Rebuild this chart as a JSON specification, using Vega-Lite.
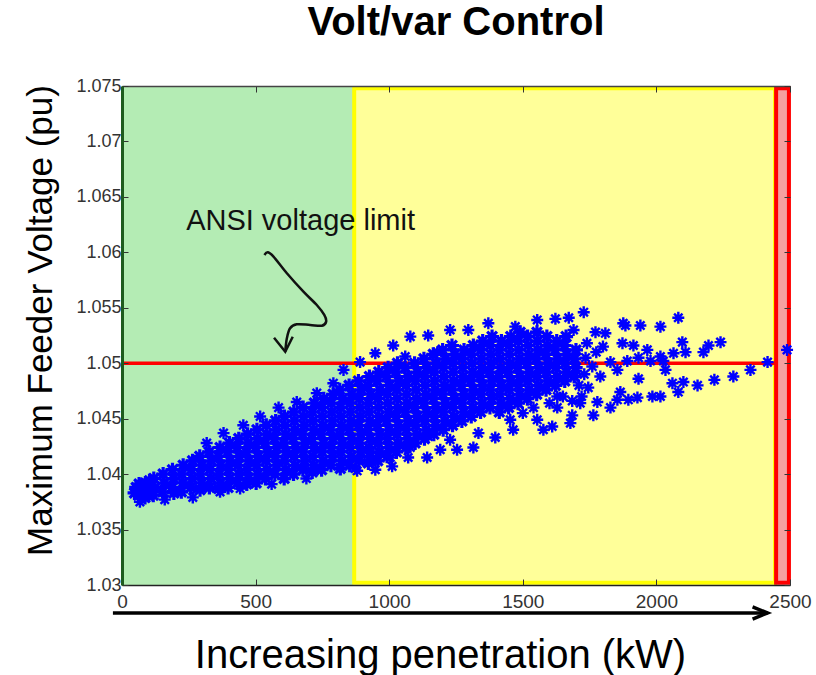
{
"$schema": "https://vega.github.io/schema/vega-lite/v6.json",
"width": 668, "height": 499,
"autosize": {"type": "none"},
"padding": {"left": 122, "top": 86, "right": 26, "bottom": 90},
"background": "white",
"config": {"view": {"stroke": null}},
"title": {"text": "Volt/var Control", "font": "Liberation Sans", "fontSize": 40, "fontWeight": "bold", "color": "#000", "anchor": "middle", "frame": "group", "baseline": "alphabetic", "offset": 48, "dy": 46},
"datasets": {
"regions": [
{"r": "g", "x1": 0, "x2": 866, "y1": 1.03, "y2": 1.075},
{"r": "y", "x1": 869, "x2": 2444, "y1": 1.0302, "y2": 1.0748},
{"r": "r", "x1": 2448, "x2": 2496, "y1": 1.0302, "y2": 1.0748}
],
"limit": [{"x1": 0, "x2": 2446, "v": 1.05}],
"note": [{"x": 240, "y": 1.0628, "t": "ANSI voltage limit"}],
"curve": [
{"o": 1, "x": 533, "y": 1.05976},
{"o": 2, "x": 546, "y": 1.0600},
{"o": 3, "x": 567, "y": 1.05961},
{"o": 4, "x": 617, "y": 1.05811},
{"o": 5, "x": 679, "y": 1.05645},
{"o": 6, "x": 729, "y": 1.05525},
{"o": 7, "x": 757, "y": 1.05435},
{"o": 8, "x": 764, "y": 1.05375},
{"o": 9, "x": 748, "y": 1.05338},
{"o": 10, "x": 704, "y": 1.05345},
{"o": 11, "x": 654, "y": 1.05351},
{"o": 12, "x": 629, "y": 1.05315},
{"o": 13, "x": 617, "y": 1.05225},
{"o": 14, "x": 611, "y": 1.05104}
],
"heads": [
{"g": "a", "o": 1, "x": 569, "y": 1.0523},
{"g": "a", "o": 2, "x": 611, "y": 1.05104},
{"g": "a", "o": 3, "x": 639, "y": 1.05239}
],
"axarrow": [
{"g": "b", "o": 1, "x": -34, "y": 1.02748},
{"g": "b", "o": 2, "x": 2416, "y": 1.02748},
{"g": "c", "o": 1, "x": 2360, "y": 1.02802},
{"g": "c", "o": 2, "x": 2416, "y": 1.02748},
{"g": "c", "o": 3, "x": 2360, "y": 1.02693}
],
"core": [
{"x":47,"y":1.0383},{"x":53,"y":1.0388},{"x":62,"y":1.0381},{"x":60,"y":1.0386},{"x":64,"y":1.0391},{"x":72,"y":1.0384},{"x":75,"y":1.0390},
{"x":82,"y":1.0384},{"x":88,"y":1.0392},{"x":86,"y":1.0379},{"x":100,"y":1.0387},{"x":103,"y":1.0394},{"x":98,"y":1.0381},
{"x":117,"y":1.0381},{"x":123,"y":1.0388},{"x":119,"y":1.0396},
{"x":152,"y":1.0384},{"x":158,"y":1.0392},{"x":154,"y":1.0400},
{"x":187,"y":1.0388},{"x":193,"y":1.0396},{"x":189,"y":1.0404},{"x":194,"y":1.0383},
{"x":222,"y":1.0384},{"x":228,"y":1.0392},{"x":224,"y":1.0400},{"x":229,"y":1.0408},
{"x":257,"y":1.0388},{"x":263,"y":1.0396},{"x":259,"y":1.0404},{"x":264,"y":1.0412},
{"x":292,"y":1.0386},{"x":298,"y":1.0392},{"x":294,"y":1.0400},{"x":299,"y":1.0408},{"x":291,"y":1.0416},
{"x":327,"y":1.0388},{"x":333,"y":1.0396},{"x":329,"y":1.0404},{"x":334,"y":1.0412},{"x":326,"y":1.0420},
{"x":362,"y":1.0387},{"x":368,"y":1.0392},{"x":364,"y":1.0400},{"x":369,"y":1.0408},{"x":361,"y":1.0416},{"x":367,"y":1.0424},
{"x":397,"y":1.0388},{"x":403,"y":1.0396},{"x":399,"y":1.0404},{"x":404,"y":1.0412},{"x":396,"y":1.0420},{"x":402,"y":1.0428},
{"x":432,"y":1.0392},{"x":438,"y":1.0400},{"x":434,"y":1.0408},{"x":439,"y":1.0416},{"x":431,"y":1.0424},{"x":437,"y":1.0432},
{"x":467,"y":1.0391},{"x":473,"y":1.0396},{"x":469,"y":1.0404},{"x":474,"y":1.0412},{"x":466,"y":1.0420},{"x":472,"y":1.0428},{"x":470,"y":1.0436},
{"x":502,"y":1.0392},{"x":508,"y":1.0400},{"x":504,"y":1.0408},{"x":509,"y":1.0416},{"x":501,"y":1.0424},{"x":507,"y":1.0432},{"x":505,"y":1.0440},
{"x":537,"y":1.0396},{"x":543,"y":1.0404},{"x":539,"y":1.0412},{"x":544,"y":1.0420},{"x":536,"y":1.0428},{"x":542,"y":1.0436},{"x":540,"y":1.0444},
{"x":572,"y":1.0400},{"x":578,"y":1.0408},{"x":574,"y":1.0416},{"x":579,"y":1.0424},{"x":571,"y":1.0432},{"x":577,"y":1.0440},{"x":575,"y":1.0448},
{"x":607,"y":1.0396},{"x":613,"y":1.0404},{"x":609,"y":1.0412},{"x":614,"y":1.0420},{"x":606,"y":1.0428},{"x":612,"y":1.0436},{"x":610,"y":1.0444},{"x":608,"y":1.0452},
{"x":642,"y":1.0400},{"x":648,"y":1.0408},{"x":644,"y":1.0416},{"x":649,"y":1.0424},{"x":641,"y":1.0432},{"x":647,"y":1.0440},{"x":645,"y":1.0448},{"x":643,"y":1.0456},
{"x":677,"y":1.0404},{"x":683,"y":1.0412},{"x":679,"y":1.0420},{"x":684,"y":1.0428},{"x":676,"y":1.0436},{"x":682,"y":1.0444},{"x":680,"y":1.0452},{"x":678,"y":1.0460},
{"x":712,"y":1.0402},{"x":718,"y":1.0408},{"x":714,"y":1.0416},{"x":719,"y":1.0424},{"x":711,"y":1.0432},{"x":717,"y":1.0440},{"x":715,"y":1.0448},{"x":713,"y":1.0456},{"x":720,"y":1.0464},
{"x":747,"y":1.0404},{"x":753,"y":1.0412},{"x":749,"y":1.0420},{"x":754,"y":1.0428},{"x":746,"y":1.0436},{"x":752,"y":1.0444},{"x":750,"y":1.0452},{"x":748,"y":1.0460},{"x":755,"y":1.0468},
{"x":782,"y":1.0408},{"x":788,"y":1.0416},{"x":784,"y":1.0424},{"x":789,"y":1.0432},{"x":781,"y":1.0440},{"x":787,"y":1.0448},{"x":785,"y":1.0456},{"x":783,"y":1.0464},{"x":790,"y":1.0472},
{"x":817,"y":1.0405},{"x":823,"y":1.0412},{"x":819,"y":1.0420},{"x":824,"y":1.0428},{"x":816,"y":1.0436},{"x":822,"y":1.0444},{"x":820,"y":1.0452},{"x":818,"y":1.0460},{"x":825,"y":1.0468},{"x":815,"y":1.0476},
{"x":852,"y":1.0408},{"x":858,"y":1.0416},{"x":854,"y":1.0424},{"x":859,"y":1.0432},{"x":851,"y":1.0440},{"x":857,"y":1.0448},{"x":855,"y":1.0456},{"x":853,"y":1.0464},{"x":860,"y":1.0472},{"x":850,"y":1.0480},
{"x":887,"y":1.0412},{"x":893,"y":1.0420},{"x":889,"y":1.0428},{"x":894,"y":1.0436},{"x":886,"y":1.0444},{"x":892,"y":1.0452},{"x":890,"y":1.0460},{"x":888,"y":1.0468},{"x":895,"y":1.0476},{"x":885,"y":1.0484},
{"x":922,"y":1.0410},{"x":928,"y":1.0416},{"x":924,"y":1.0424},{"x":929,"y":1.0432},{"x":921,"y":1.0440},{"x":927,"y":1.0448},{"x":925,"y":1.0456},{"x":923,"y":1.0464},{"x":930,"y":1.0472},{"x":920,"y":1.0480},{"x":926,"y":1.0488},
{"x":957,"y":1.0412},{"x":963,"y":1.0420},{"x":959,"y":1.0428},{"x":964,"y":1.0436},{"x":956,"y":1.0444},{"x":962,"y":1.0452},{"x":960,"y":1.0460},{"x":958,"y":1.0468},{"x":965,"y":1.0476},{"x":955,"y":1.0484},{"x":961,"y":1.0492},
{"x":992,"y":1.0416},{"x":998,"y":1.0424},{"x":994,"y":1.0432},{"x":999,"y":1.0440},{"x":991,"y":1.0448},{"x":997,"y":1.0456},{"x":995,"y":1.0464},{"x":993,"y":1.0472},{"x":1000,"y":1.0480},{"x":990,"y":1.0488},{"x":996,"y":1.0496},
{"x":1027,"y":1.0420},{"x":1033,"y":1.0428},{"x":1029,"y":1.0436},{"x":1034,"y":1.0444},{"x":1026,"y":1.0452},{"x":1032,"y":1.0460},{"x":1030,"y":1.0468},{"x":1028,"y":1.0476},{"x":1035,"y":1.0484},{"x":1025,"y":1.0492},{"x":1031,"y":1.0500},
{"x":1062,"y":1.0424},{"x":1068,"y":1.0432},{"x":1064,"y":1.0440},{"x":1069,"y":1.0448},{"x":1061,"y":1.0456},{"x":1067,"y":1.0464},{"x":1065,"y":1.0472},{"x":1063,"y":1.0480},{"x":1070,"y":1.0488},{"x":1060,"y":1.0496},
{"x":1097,"y":1.0428},{"x":1103,"y":1.0436},{"x":1099,"y":1.0444},{"x":1104,"y":1.0452},{"x":1096,"y":1.0460},{"x":1102,"y":1.0468},{"x":1100,"y":1.0476},{"x":1098,"y":1.0484},{"x":1105,"y":1.0492},{"x":1095,"y":1.0500},
{"x":1132,"y":1.0432},{"x":1138,"y":1.0440},{"x":1134,"y":1.0448},{"x":1139,"y":1.0456},{"x":1131,"y":1.0464},{"x":1137,"y":1.0472},{"x":1135,"y":1.0480},{"x":1133,"y":1.0488},{"x":1140,"y":1.0496},{"x":1130,"y":1.0504},
{"x":1167,"y":1.0436},{"x":1173,"y":1.0444},{"x":1169,"y":1.0452},{"x":1174,"y":1.0460},{"x":1166,"y":1.0468},{"x":1172,"y":1.0476},{"x":1170,"y":1.0484},{"x":1168,"y":1.0492},{"x":1175,"y":1.0500},{"x":1165,"y":1.0508},
{"x":1202,"y":1.0440},{"x":1208,"y":1.0448},{"x":1204,"y":1.0456},{"x":1209,"y":1.0464},{"x":1201,"y":1.0472},{"x":1207,"y":1.0480},{"x":1205,"y":1.0488},{"x":1203,"y":1.0496},{"x":1210,"y":1.0504},{"x":1200,"y":1.0512},
{"x":1237,"y":1.0444},{"x":1243,"y":1.0452},{"x":1239,"y":1.0460},{"x":1244,"y":1.0468},{"x":1236,"y":1.0476},{"x":1242,"y":1.0484},{"x":1240,"y":1.0492},{"x":1238,"y":1.0500},{"x":1245,"y":1.0508},{"x":1235,"y":1.0516},
{"x":1272,"y":1.0448},{"x":1278,"y":1.0456},{"x":1274,"y":1.0464},{"x":1279,"y":1.0472},{"x":1271,"y":1.0480},{"x":1277,"y":1.0488},{"x":1275,"y":1.0496},{"x":1273,"y":1.0504},{"x":1280,"y":1.0512},
{"x":1307,"y":1.0452},{"x":1313,"y":1.0460},{"x":1309,"y":1.0468},{"x":1314,"y":1.0476},{"x":1306,"y":1.0484},{"x":1312,"y":1.0492},{"x":1310,"y":1.0500},{"x":1308,"y":1.0508},{"x":1315,"y":1.0516},
{"x":1342,"y":1.0456},{"x":1348,"y":1.0464},{"x":1344,"y":1.0472},{"x":1349,"y":1.0480},{"x":1341,"y":1.0488},{"x":1347,"y":1.0496},{"x":1345,"y":1.0504},{"x":1343,"y":1.0512},{"x":1350,"y":1.0520},
{"x":1377,"y":1.0460},{"x":1383,"y":1.0468},{"x":1379,"y":1.0476},{"x":1384,"y":1.0484},{"x":1376,"y":1.0492},{"x":1382,"y":1.0500},{"x":1380,"y":1.0508},{"x":1378,"y":1.0516},{"x":1385,"y":1.0524},
{"x":1412,"y":1.0456},{"x":1418,"y":1.0464},{"x":1414,"y":1.0472},{"x":1419,"y":1.0480},{"x":1411,"y":1.0488},{"x":1417,"y":1.0496},{"x":1415,"y":1.0504},{"x":1413,"y":1.0512},{"x":1420,"y":1.0520},
{"x":1447,"y":1.0460},{"x":1453,"y":1.0468},{"x":1449,"y":1.0476},{"x":1454,"y":1.0484},{"x":1446,"y":1.0492},{"x":1452,"y":1.0500},{"x":1450,"y":1.0508},{"x":1448,"y":1.0516},{"x":1455,"y":1.0524},
{"x":1482,"y":1.0464},{"x":1488,"y":1.0472},{"x":1484,"y":1.0480},{"x":1489,"y":1.0488},{"x":1481,"y":1.0496},{"x":1487,"y":1.0504},{"x":1485,"y":1.0512},{"x":1483,"y":1.0520},{"x":1490,"y":1.0528},
{"x":1517,"y":1.0468},{"x":1523,"y":1.0476},{"x":1519,"y":1.0484},{"x":1524,"y":1.0492},{"x":1516,"y":1.0500},{"x":1522,"y":1.0508},{"x":1520,"y":1.0516},{"x":1518,"y":1.0524},
{"x":1552,"y":1.0472},{"x":1558,"y":1.0480},{"x":1554,"y":1.0488},{"x":1559,"y":1.0496},{"x":1551,"y":1.0504},{"x":1557,"y":1.0512},{"x":1555,"y":1.0520},{"x":1553,"y":1.0528},
{"x":1587,"y":1.0476},{"x":1593,"y":1.0484},{"x":1589,"y":1.0492},{"x":1594,"y":1.0500},{"x":1586,"y":1.0508},{"x":1592,"y":1.0516},{"x":1590,"y":1.0524},
{"x":1622,"y":1.0480},{"x":1628,"y":1.0488},{"x":1624,"y":1.0496},{"x":1629,"y":1.0504},{"x":1621,"y":1.0512},{"x":1627,"y":1.0520},
{"x":1657,"y":1.0484},{"x":1663,"y":1.0492},{"x":1659,"y":1.0500},{"x":1664,"y":1.0508},{"x":1656,"y":1.0516},{"x":1662,"y":1.0524},
{"x":1692,"y":1.0488},{"x":1698,"y":1.0496},{"x":1694,"y":1.0504},{"x":1699,"y":1.0512}
],
"out": [
{"x":67,"y":1.0375},{"x":160,"y":1.0377},{"x":265,"y":1.0379},{"x":317,"y":1.0428},{"x":380,"y":1.0437},{"x":454,"y":1.0444},{"x":517,"y":1.0452},{"x":586,"y":1.0460},{"x":654,"y":1.0465},{"x":729,"y":1.0473},{"x":791,"y":1.0482},{"x":829,"y":1.0494},{"x":891,"y":1.0501},{"x":948,"y":1.0509},
{"x":367,"y":1.0384},{"x":442,"y":1.0387},{"x":560,"y":1.0391},{"x":690,"y":1.0396},{"x":873,"y":1.0405},{"x":948,"y":1.0404},{"x":880,"y":1.0403},
{"x":1015,"y":1.0516},{"x":1060,"y":1.0506},{"x":1079,"y":1.0524},{"x":1146,"y":1.0525},{"x":1180,"y":1.0510},{"x":1228,"y":1.0530},{"x":1296,"y":1.0530},{"x":1371,"y":1.0536},{"x":1472,"y":1.0533},{"x":1554,"y":1.0539},{"x":1622,"y":1.0540},{"x":1672,"y":1.0541},{"x":1690,"y":1.0530},{"x":1728,"y":1.0546},{"x":1772,"y":1.0528},{"x":1809,"y":1.0527},{"x":1876,"y":1.0536},{"x":1884,"y":1.0534},{"x":1940,"y":1.0534},{"x":2015,"y":1.0533},{"x":2082,"y":1.0541},{"x":1873,"y":1.0518},{"x":1914,"y":1.0516},{"x":1966,"y":1.0512},{"x":2015,"y":1.0506},{"x":2097,"y":1.0519},{"x":2109,"y":1.0510},{"x":2176,"y":1.0510},{"x":2195,"y":1.0516},{"x":2240,"y":1.0519},{"x":2064,"y":1.0509},
{"x":1828,"y":1.0501},{"x":1891,"y":1.0502},{"x":1933,"y":1.0505},{"x":1978,"y":1.0502},{"x":2026,"y":1.0502},{"x":2416,"y":1.0501},{"x":2352,"y":1.0494},{"x":2288,"y":1.0488},{"x":2217,"y":1.0485},{"x":2154,"y":1.0480},{"x":2101,"y":1.0483},{"x":2060,"y":1.0482},{"x":2082,"y":1.0474},{"x":2034,"y":1.0494},{"x":1933,"y":1.0486},{"x":1854,"y":1.0494},{"x":1865,"y":1.0474},{"x":2489,"y":1.0512},
{"x":2015,"y":1.0470},{"x":1985,"y":1.0470},{"x":1929,"y":1.0469},{"x":1895,"y":1.0467},{"x":1854,"y":1.0467},{"x":1828,"y":1.0460},{"x":1779,"y":1.0465},{"x":1764,"y":1.0453},{"x":1715,"y":1.0464},{"x":1685,"y":1.0466},{"x":1685,"y":1.0453},{"x":1678,"y":1.0446},{"x":1629,"y":1.0470},{"x":1629,"y":1.0460},{"x":1610,"y":1.0443},{"x":1577,"y":1.0440},{"x":1554,"y":1.0449},{"x":1464,"y":1.0440},{"x":1453,"y":1.0449},{"x":1397,"y":1.0433},{"x":1334,"y":1.0437},{"x":1315,"y":1.0424},{"x":1254,"y":1.0422},{"x":1228,"y":1.0431},{"x":1191,"y":1.0422},{"x":1146,"y":1.0434},{"x":1142,"y":1.0415},{"x":1079,"y":1.0424},{"x":1071,"y":1.0415},{"x":1011,"y":1.0407},{"x":1004,"y":1.0415},{"x":929,"y":1.0419},
{"x":1730,"y":1.0490},{"x":1735,"y":1.0505},{"x":1740,"y":1.0518},{"x":1760,"y":1.0497},{"x":1775,"y":1.0510},{"x":1790,"y":1.0488},{"x":1800,"y":1.0515},{"x":1745,"y":1.0478},{"x":1710,"y":1.0480},{"x":1720,"y":1.0470},
{"x":1500,"y":1.0455},{"x":1540,"y":1.0460},{"x":1600,"y":1.0464},{"x":1650,"y":1.0470}
]
},
"resolve": {"axis": {"x": "independent", "y": "independent"}},
"layer": [
{
"data": {"name": "regions"},
"transform": [{"filter": "datum.r === 'g'"}],
"mark": {"type": "rect", "fill": "#b4ecb4", "strokeWidth": 0},
"encoding": {
"x": {"field": "x1", "type": "quantitative", "scale": {"domain": [0, 2500], "nice": false, "zero": false},
"axis": {"orient": "bottom", "values": [0, 500, 1000, 1500, 2000, 2500], "format": "d", "grid": false,
"title": "Increasing penetration (kW)", "titleFont": "Liberation Sans", "titleFontSize": 40, "titleFontWeight": "normal", "titleColor": "#000",
"titleX": 318, "titleY": 70, "titleBaseline": "middle", "titleAlign": "center", "titleAnchor": null,
"labelFont": "Liberation Sans", "labelFontSize": 19, "labelColor": "#333", "labelPadding": 13, "labelFlush": false, "labelOverlap": false,
"tickSize": -6, "tickColor": "#333", "tickWidth": 1, "domainColor": "#222", "domainWidth": 1.5, "zindex": 2}},
"x2": {"field": "x2"},
"y": {"field": "y1", "type": "quantitative", "scale": {"domain": [1.03, 1.075], "nice": false, "zero": false},
"axis": {"orient": "left", "values": [1.03, 1.035, 1.04, 1.045, 1.05, 1.055, 1.06, 1.065, 1.07, 1.075], "format": ".3~f", "grid": false,
"title": "Maximum Feeder Voltage (pu)", "titleFont": "Liberation Sans", "titleFontSize": 35, "titleFontWeight": "normal", "titleColor": "#000",
"titleX": -82, "titleY": 234, "titleAngle": 270, "titleBaseline": "middle", "titleAlign": "center", "titleAnchor": null,
"labelFont": "Liberation Sans", "labelFontSize": 18, "labelColor": "#333", "labelPadding": 7, "labelFlush": false, "labelOverlap": false,
"tickSize": -6, "tickColor": "#333", "tickWidth": 1, "domainColor": "#1e5c1e", "domainWidth": 3, "zindex": 2}},
"y2": {"field": "y2"}
}
},
{
"data": {"name": "regions"},
"transform": [{"filter": "datum.r === 'y'"}],
"mark": {"type": "rect", "fill": "#ffff99", "stroke": "#ffff00", "strokeWidth": 4},
"encoding": {
"x": {"field": "x1", "type": "quantitative", "axis": null},
"x2": {"field": "x2"},
"y": {"field": "y1", "type": "quantitative", "axis": null},
"y2": {"field": "y2"}
}
},
{
"data": {"name": "regions"},
"transform": [{"filter": "datum.r === 'r'"}],
"mark": {"type": "rect", "fill": "#f4a0a0", "stroke": "#ff0000", "strokeWidth": 4},
"encoding": {
"x": {"field": "x1", "type": "quantitative", "axis": null},
"x2": {"field": "x2"},
"y": {"field": "y1", "type": "quantitative", "axis": null},
"y2": {"field": "y2"}
}
},
{
"data": {"name": "limit"},
"mark": {"type": "rule", "color": "#ff0000", "strokeWidth": 3.5},
"encoding": {
"x": {"field": "x1", "type": "quantitative",
"axis": {"orient": "top", "values": [0, 500, 1000, 1500, 2000, 2500], "labels": false, "title": null, "grid": false,
"tickSize": -6, "tickColor": "#333", "domainColor": "#444", "domainWidth": 1.5, "zindex": 2}},
"x2": {"field": "x2"},
"y": {"field": "v", "type": "quantitative",
"axis": {"orient": "right", "values": [1.03, 1.035, 1.04, 1.045, 1.05, 1.055, 1.06, 1.065, 1.07, 1.075], "labels": false, "title": null, "grid": false,
"tickSize": -6, "tickColor": "#333", "domain": false, "zindex": 2}}
}
},
{
"data": {"name": "core"},
"mark": {"type": "point", "shape": "M-1,0L1,0M0,-1L0,1M-0.7,-0.7L0.7,0.7M-0.7,0.7L0.7,-0.7", "size": 196, "filled": false, "color": "#0000ff", "strokeWidth": 3.2, "opacity": 1},
"encoding": {
"x": {"field": "x", "type": "quantitative", "axis": null},
"y": {"field": "y", "type": "quantitative", "axis": null}
}
},
{
"data": {"name": "out"},
"mark": {"type": "point", "shape": "M-1,0L1,0M0,-1L0,1M-0.7,-0.7L0.7,0.7M-0.7,0.7L0.7,-0.7", "size": 144, "filled": false, "color": "#0000ff", "strokeWidth": 2.4, "opacity": 1},
"encoding": {
"x": {"field": "x", "type": "quantitative", "axis": null},
"y": {"field": "y", "type": "quantitative", "axis": null}
}
},
{
"data": {"name": "note"},
"mark": {"type": "text", "align": "left", "baseline": "middle", "font": "Liberation Sans", "fontSize": 29, "color": "#111"},
"encoding": {
"x": {"field": "x", "type": "quantitative", "axis": null},
"y": {"field": "y", "type": "quantitative", "axis": null},
"text": {"field": "t"}
}
},
{
"data": {"name": "curve"},
"mark": {"type": "line", "interpolate": "cardinal", "color": "#111", "strokeWidth": 2.5},
"encoding": {
"x": {"field": "x", "type": "quantitative", "axis": null},
"y": {"field": "y", "type": "quantitative", "axis": null},
"order": {"field": "o", "type": "quantitative"}
}
},
{
"data": {"name": "heads"},
"mark": {"type": "line", "color": "#111", "strokeWidth": 2.5},
"encoding": {
"x": {"field": "x", "type": "quantitative", "axis": null},
"y": {"field": "y", "type": "quantitative", "axis": null},
"detail": {"field": "g"},
"order": {"field": "o", "type": "quantitative"}
}
},
{
"data": {"name": "axarrow"},
"mark": {"type": "line", "color": "#000", "strokeWidth": 3.5},
"encoding": {
"x": {"field": "x", "type": "quantitative", "axis": null},
"y": {"field": "y", "type": "quantitative", "axis": null},
"detail": {"field": "g"},
"order": {"field": "o", "type": "quantitative"}
}
}
]
}
